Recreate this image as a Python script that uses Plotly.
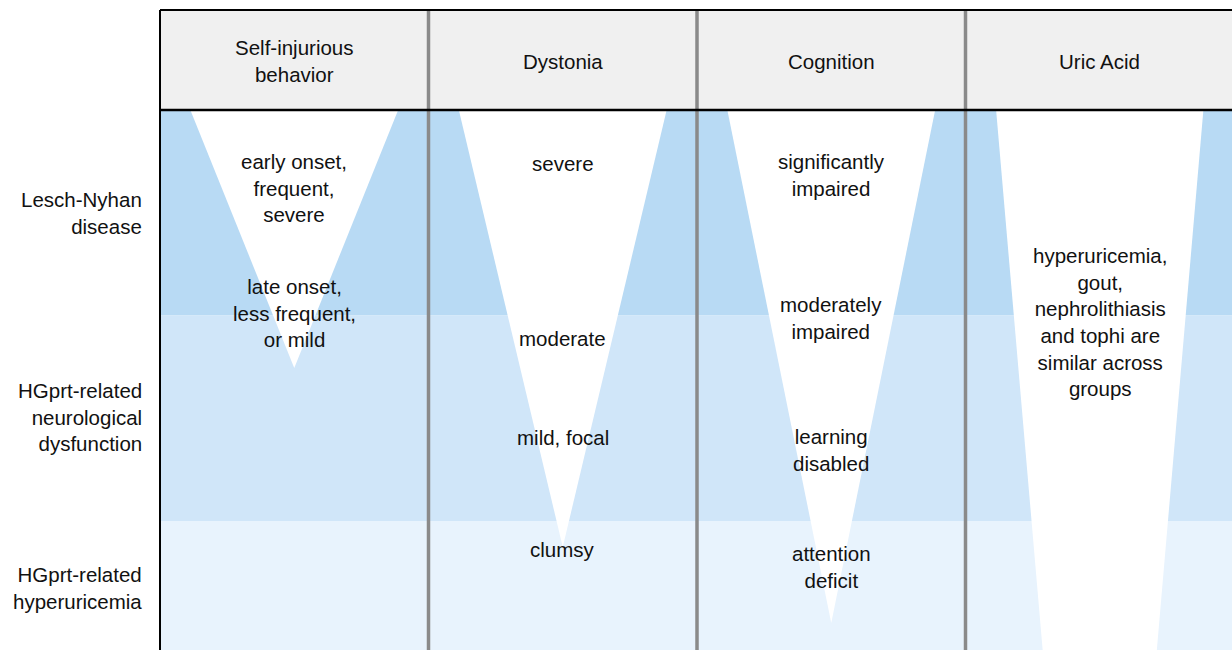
import plotly.graph_objects as go

# ---- data ----
columns = ["Self-injurious<br>behavior", "Dystonia", "Cognition", "Uric Acid"]
rows = ["Lesch-Nyhan<br>disease", "HGprt-related<br>neurological<br>dysfunction", "HGprt-related<br>hyperuricemia"]
row_label_pos = [0.50, 1.494, 2.326]          # row units (depth)
row_colors = ["#b8daf4", "#d0e6f9", "#e8f3fd"]

# white wedge per column: top half-width, bottom depth, bottom half-width (column / row units)
wedge_top_half = [0.387, 0.387, 0.387, 0.386]
wedge_depth = [1.255, 2.127, 2.496, 3.0]
wedge_bottom_half = [0.0, 0.0, 0.0, 0.188]

# labels per column: (text, depth)
col_labels = [
    [("early onset,<br>frequent,<br>severe", 0.38), ("late onset,<br>less frequent,<br>or mild", 0.99)],
    [("severe", 0.258), ("moderate", 1.11), ("mild, focal", 1.596), ("clumsy", 2.141)],
    [("significantly<br>impaired", 0.316), ("moderately<br>impaired", 1.012),
     ("learning<br>disabled", 1.655), ("attention<br>deficit", 2.224)],
    [("hyperuricemia,<br>gout,<br>nephrolithiasis<br>and tophi are<br>similar across<br>groups", 1.032)],
]

header_top = -0.487
header_mid = -0.238
row_label_x = -0.0585

FONT = "Liberation Sans, Arial, Helvetica, sans-serif"
FS = 20.5

fig = go.Figure()
shapes = []
ncol = len(columns)
nrow = len(rows)

# row bands
for i, c in enumerate(row_colors):
    shapes.append(dict(type="rect", xref="x", yref="y", x0=0, x1=ncol, y0=i, y1=i + 1,
                       fillcolor=c, line=dict(width=0), layer="below"))
# header
shapes.append(dict(type="rect", xref="x", yref="y", x0=0, x1=ncol, y0=header_top, y1=0,
                   fillcolor="#f0f0f0", line=dict(width=0), layer="below"))
# wedges
for j in range(ncol):
    cx = j + 0.5
    th, d, bh = wedge_top_half[j], wedge_depth[j], wedge_bottom_half[j]
    if bh > 0:
        path = f"M {cx-th} 0 L {cx+th} 0 L {cx+bh} {d} L {cx-bh} {d} Z"
    else:
        path = f"M {cx-th} 0 L {cx+th} 0 L {cx} {d} Z"
    shapes.append(dict(type="path", xref="x", yref="y", path=path,
                       fillcolor="white", line=dict(width=0), layer="below"))
# column dividers
for j in range(1, ncol):
    shapes.append(dict(type="line", xref="x", yref="y", x0=j, x1=j, y0=header_top, y1=nrow,
                       line=dict(color="#8a8a8a", width=3.5), layer="above"))
# borders
shapes.append(dict(type="line", xref="x", yref="y", x0=0, x1=ncol + 0.5, y0=0, y1=0,
                   line=dict(color="black", width=2.5), layer="above"))
shapes.append(dict(type="line", xref="x", yref="y", x0=0, x1=ncol + 0.5, y0=header_top, y1=header_top,
                   line=dict(color="black", width=2), layer="above"))
shapes.append(dict(type="line", xref="x", yref="y", x0=0, x1=0, y0=header_top, y1=nrow,
                   line=dict(color="black", width=2), layer="above"))

annotations = []
for j, name in enumerate(columns):
    annotations.append(dict(x=j + 0.5, y=header_mid, xref="x", yref="y", text=name,
                            showarrow=False, xanchor="center", yanchor="middle",
                            font=dict(family=FONT, size=FS, color="#111")))
    for txt, dep in col_labels[j]:
        annotations.append(dict(x=j + 0.5, y=dep, xref="x", yref="y", text=txt,
                                showarrow=False, xanchor="center", yanchor="middle",
                                font=dict(family=FONT, size=FS, color="#111")))
for name, dep in zip(rows, row_label_pos):
    annotations.append(dict(x=row_label_x, y=dep, xref="x", yref="y", text=name, align="right",
                            showarrow=False, xanchor="right", yanchor="middle",
                            font=dict(family=FONT, size=FS, color="#111")))

x0px, cw = 160.0, 268.5
y0px, rh = 110.0, 205.5
fig.update_layout(
    width=1232, height=650, margin=dict(l=0, r=0, t=0, b=0),
    paper_bgcolor="white", plot_bgcolor="white",
    shapes=shapes, annotations=annotations, showlegend=False,
    xaxis=dict(range=[(0 - x0px) / cw, (1232 - x0px) / cw], visible=False, fixedrange=True),
    yaxis=dict(range=[(650 - y0px) / rh, (0 - y0px) / rh], visible=False, fixedrange=True),
)
fig.write_html("out.html", config={"displayModeBar": False},
               post_script="document.body.style.margin='0';document.body.style.overflow='hidden';")
